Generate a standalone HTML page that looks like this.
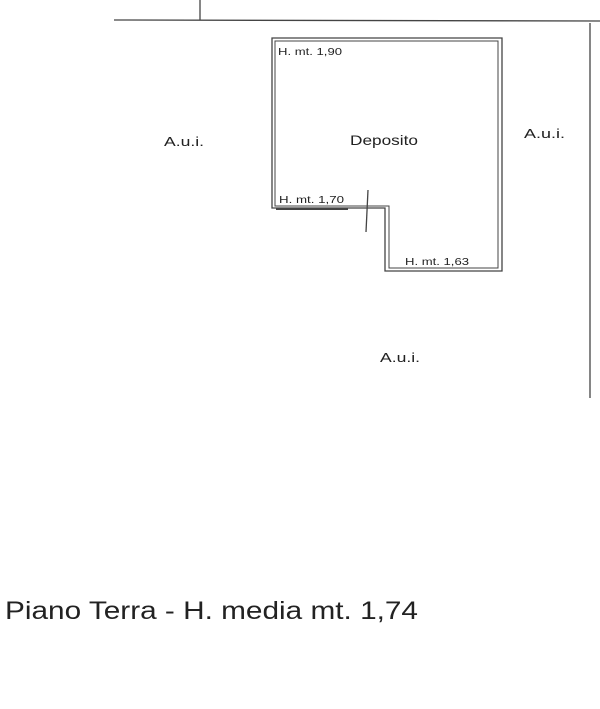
<!DOCTYPE html>
<html><head><style>
html,body{margin:0;padding:0;background:#fff;}
svg{display:block}
text{font-family:"Liberation Sans",sans-serif;fill:#222}
</style></head><body>
<svg width="600" height="709" viewBox="0 0 600 709" xmlns="http://www.w3.org/2000/svg">
<g stroke="#444" stroke-width="1.3" fill="none">
<line x1="114" y1="20" x2="600" y2="21"/>
<line x1="200" y1="0" x2="200" y2="20"/>
<line x1="590" y1="23" x2="590" y2="398"/>
<path d="M272 38 H502 V271 H385 V208 H272 Z"/>
<path d="M275 41 H498 V268 H389 V206 H275 Z" stroke-width="1"/>
<line x1="276" y1="209" x2="348" y2="209" stroke-width="2"/>
<line x1="368" y1="190" x2="366" y2="232"/>
</g>
<text x="278" y="55" font-size="10" textLength="64" lengthAdjust="spacingAndGlyphs">H. mt. 1,90</text>
<text x="279" y="203" font-size="10" textLength="65" lengthAdjust="spacingAndGlyphs">H. mt. 1,70</text>
<text x="405" y="265" font-size="10" textLength="64" lengthAdjust="spacingAndGlyphs">H. mt. 1,63</text>
<text x="350" y="145" font-size="14" textLength="68" lengthAdjust="spacingAndGlyphs">Deposito</text>
<text x="164" y="146" font-size="13" textLength="40" lengthAdjust="spacingAndGlyphs">A.u.i.</text>
<text x="524" y="138" font-size="13" textLength="41" lengthAdjust="spacingAndGlyphs">A.u.i.</text>
<text x="380" y="362" font-size="13" textLength="40" lengthAdjust="spacingAndGlyphs">A.u.i.</text>
<text x="5" y="619" font-size="25" textLength="413" lengthAdjust="spacingAndGlyphs">Piano Terra - H. media mt. 1,74</text>
</svg>
</body></html>
